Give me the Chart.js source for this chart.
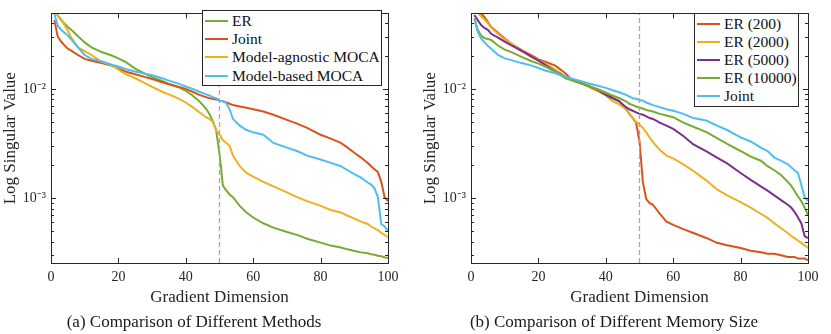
<!DOCTYPE html>
<html>
<head>
<meta charset="utf-8">
<script src="https://cdn.jsdelivr.net/npm/chart.js@4/dist/chart.umd.min.js"></script>
<style>
  body { margin: 0; background: #fff; }
  .panel { position: absolute; top: 0; height: 334px; }
  .legend {
    position: absolute; box-sizing: border-box; background: #fff;
    border: 1.4px solid #262626; padding-top: 0.5px;
    font: 15.5px "Liberation Serif", serif; color: #111;
  }
  .legend .row { display: flex; align-items: center; white-space: nowrap; }
  .legend .swatch { display: inline-block; height: 2px; margin-left: 2px; margin-right: 4px; }
</style>
</head>
<body>
<div class="panel" style="left:0;width:420px">
  <canvas id="chartA" width="420" height="334"></canvas>
  <div class="legend" id="legA" style="left:202px;top:10px;width:180px;height:76px"></div>
</div>
<div class="panel" style="left:420px;width:411px">
  <canvas id="chartB" width="411" height="334"></canvas>
  <div class="legend" id="legB" style="left:274px;top:13px;width:105px;height:94px"></div>
</div>
<script>
// gradient dimensions at which values were read
const dims = [1,2,3,4,5,6,8,10,12,15,18,20,22,25,28,30,33,35,38,40,42,44,46,47,48,49,50,51,52,53,54,56,58,60,63,66,70,73,76,80,83,86,88,90,92,94,95,96,97,98,99,100];

// (a) methods
const methodNames = ["ER", "Joint", "Model-agnostic MOCA", "Model-based MOCA"];
const erA = [0.051,0.047,0.0425,0.0396,0.0368,0.0347,0.0303,0.0266,0.024,0.0217,0.0202,0.019,0.0177,0.0153,0.0137,0.0128,0.0118,0.0111,0.0103,0.0096,0.0087,0.0077,0.0066,0.0059,0.0051,0.0042,0.00255,0.0013,0.00118,0.00108,0.00102,0.00085,0.00074,0.000665,0.000589,0.000537,0.00049,0.000461,0.000425,0.000392,0.000368,0.000354,0.00034,0.000329,0.000319,0.000313,0.000307,0.000303,0.000297,0.000294,0.000288,0.000283];
const jointA = [0.0425,0.03,0.0271,0.025,0.0233,0.0224,0.0204,0.0188,0.0181,0.0172,0.0163,0.0153,0.0144,0.0136,0.0128,0.0123,0.0115,0.011,0.0104,0.01,0.0094,0.0088,0.0084,0.0082,0.0081,0.008,0.0078,0.0077,0.0075,0.0073,0.0071,0.0069,0.0067,0.0065,0.0062,0.0058,0.0052,0.0048,0.0044,0.0038,0.0035,0.0032,0.0029,0.0026,0.00235,0.0021,0.00196,0.00184,0.00173,0.00141,0.00102,0.00094];
const agnosticA = [0.052,0.047,0.0434,0.0384,0.034,0.0294,0.024,0.0221,0.0204,0.0177,0.0165,0.015,0.0137,0.0125,0.0112,0.0104,0.0094,0.0089,0.0081,0.0075,0.0068,0.0061,0.0055,0.0053,0.005,0.0042,0.00384,0.0034,0.00319,0.00301,0.00245,0.00196,0.0017,0.00157,0.00141,0.00128,0.00113,0.00102,0.00094,0.00085,0.00078,0.00074,0.00069,0.00065,0.00061,0.00058,0.00055,0.00053,0.00051,0.00048,0.00046,0.00044];
const basedA = [0.049,0.0376,0.0347,0.0326,0.0307,0.0283,0.024,0.0204,0.0188,0.0179,0.0166,0.016,0.0152,0.0144,0.0137,0.0133,0.0125,0.0119,0.0111,0.0105,0.01,0.0094,0.0089,0.0087,0.0084,0.0082,0.0078,0.0077,0.0074,0.0065,0.0053,0.0046,0.0042,0.004,0.0038,0.0032,0.0029,0.0027,0.00245,0.00226,0.0021,0.00196,0.0018,0.00166,0.00154,0.00139,0.00133,0.00123,0.00102,0.00058,0.00055,0.0005];

// (b) memory sizes
const memoryNames = ["ER (200)", "ER (2000)", "ER (5000)", "ER (10000)", "Joint"];
const er200 = [0.057,0.053,0.049,0.0452,0.0408,0.0368,0.0326,0.0289,0.0258,0.0226,0.0202,0.0186,0.0177,0.0163,0.0139,0.012,0.0112,0.0106,0.0098,0.0092,0.0083,0.0077,0.0065,0.0059,0.0054,0.0049,0.0033,0.0014,0.00098,0.0009,0.00087,0.00072,0.00061,0.00057,0.00052,0.00048,0.00043,0.00039,0.00037,0.00035,0.00033,0.00032,0.00031,0.00031,0.0003,0.00029,0.00029,0.00029,0.00028,0.00028,0.00028,0.00027];
const er2000 = [0.054,0.05,0.0461,0.043,0.04,0.0361,0.0319,0.0283,0.0258,0.0221,0.0196,0.0182,0.017,0.015,0.013,0.012,0.0111,0.0104,0.0094,0.0087,0.0077,0.0072,0.0065,0.0059,0.0054,0.005,0.0047,0.0044,0.004,0.0036,0.00326,0.00277,0.00245,0.00231,0.00204,0.00177,0.00144,0.0012,0.00106,0.00092,0.00082,0.00072,0.00066,0.00059,0.00053,0.00048,0.00045,0.00043,0.00041,0.00039,0.00037,0.00035];
const er5000 = [0.0473,0.0425,0.0384,0.0361,0.0347,0.0319,0.0294,0.0271,0.025,0.0223,0.0196,0.0181,0.0166,0.0144,0.0128,0.012,0.0112,0.0106,0.0096,0.0088,0.0082,0.0077,0.0068,0.0065,0.0063,0.0061,0.0059,0.0058,0.0056,0.0054,0.0053,0.0049,0.0046,0.0043,0.0037,0.0031,0.00266,0.00235,0.00208,0.0017,0.00147,0.00128,0.00117,0.00106,0.00096,0.00087,0.00082,0.00075,0.00067,0.00059,0.00045,0.00043];
const er10000 = [0.0443,0.0347,0.0307,0.0291,0.0286,0.028,0.0249,0.0228,0.0217,0.0196,0.0179,0.017,0.016,0.0144,0.0125,0.012,0.0112,0.0106,0.0097,0.0092,0.0087,0.0082,0.0077,0.0073,0.0071,0.0069,0.0067,0.0066,0.0064,0.0063,0.0062,0.0059,0.0057,0.0055,0.0049,0.0045,0.004,0.00354,0.00313,0.0027,0.0024,0.0022,0.00196,0.0018,0.00163,0.00141,0.0013,0.00116,0.00104,0.00094,0.00082,0.0007];
const jointB = [0.0434,0.0333,0.0289,0.0266,0.0248,0.0233,0.0204,0.019,0.0183,0.0172,0.0163,0.0155,0.0147,0.0139,0.0129,0.0124,0.0117,0.0112,0.0106,0.0102,0.0097,0.0093,0.0088,0.0085,0.0082,0.0081,0.0079,0.0078,0.0075,0.0073,0.0071,0.0068,0.0065,0.0063,0.0059,0.0054,0.0051,0.0046,0.0042,0.0036,0.0033,0.0029,0.0027,0.00235,0.0022,0.00204,0.00192,0.0018,0.0017,0.00133,0.00102,0.00094];

const xTicks = [0, 20, 40, 60, 80, 100];
const yMin = 2.55e-4, yMax = 0.049;
const splitDim = 50;

const GREEN = "#77AC30", RED = "#D95319", YELLOW = "#EDB120", BLUE = "#4DBEEE", PURPLE = "#7E2F8E";
const AXIS = "#262626";
const FONT = "'Liberation Serif', serif";

const supMap = { "-": "\u207B", "0": "\u2070", "1": "\u00B9", "2": "\u00B2", "3": "\u00B3", "4": "\u2074", "5": "\u2075" };
function sup(n) { return String(n).split("").map(c => supMap[c] || c).join(""); }

// MATLAB style box with inward ticks on all four sides
const boxTicks = {
  id: "boxTicks",
  afterDatasetsDraw(chart) {
    const { ctx, chartArea: a, scales: { x, y } } = chart;
    ctx.save();
    ctx.strokeStyle = AXIS;
    ctx.lineWidth = 1;
    ctx.beginPath();
    x.ticks.forEach(t => {
      const px = Math.round(x.getPixelForValue(t.value)) + 0.5;
      ctx.moveTo(px, a.bottom); ctx.lineTo(px, a.bottom - 5);
      ctx.moveTo(px, a.top); ctx.lineTo(px, a.top + 5);
    });
    y.ticks.forEach(t => {
      const e = Math.floor(Math.log10(t.value) + 1e-9);
      const s = t.value / Math.pow(10, e);
      if (Math.abs(s - Math.round(s)) > 1e-6) return;
      const len = Math.round(s) === 1 ? 5 : 3;
      const py = Math.round(y.getPixelForValue(t.value)) + 0.5;
      ctx.moveTo(a.left, py); ctx.lineTo(a.left + len, py);
      ctx.moveTo(a.right, py); ctx.lineTo(a.right - len, py);
    });
    ctx.stroke();
    ctx.strokeRect(Math.round(a.left) + 0.5, Math.round(a.top) + 0.5, Math.round(a.width), Math.round(a.height));
    ctx.restore();
  }
};

function makeChart(id, names, colors, seriesList, caption, width) {
  const datasets = seriesList.map((vals, i) => ({
    label: names[i],
    data: dims.map((d, k) => ({ x: d, y: vals[k] })),
    borderColor: colors[i],
    backgroundColor: colors[i],
    borderWidth: 2,
    pointRadius: 0,
    order: seriesList.length - i
  }));
  datasets.push({
    label: "split",
    data: [{ x: splitDim, y: yMin }, { x: splitDim, y: yMax }],
    borderColor: "#a6a6a6",
    borderWidth: 1.3,
    borderDash: [5, 3],
    pointRadius: 0,
    order: 0
  });

  return new Chart(document.getElementById(id), {
    type: "line",
    data: { datasets },
    plugins: [boxTicks],
    options: {
      responsive: false,
      animation: false,
      layout: { padding: { left: 0, right: width - 388, top: 5, bottom: 0 } },
      plugins: {
        legend: { display: false },
        tooltip: { enabled: false },
        title: {
          display: true, position: "bottom", text: caption, color: "#1a1a1a",
          font: { family: FONT, size: 17, weight: "normal" },
          padding: { top: 4, bottom: 1.6 }
        }
      },
      scales: {
        x: {
          type: "linear", min: 0, max: 100,
          afterBuildTicks: s => { s.ticks = xTicks.map(v => ({ value: v })); },
          afterFit: s => { s.height = 45; },
          grid: { display: false, drawTicks: false },
          border: { display: false },
          ticks: { color: AXIS, padding: 6, maxRotation: 0, font: { family: FONT, size: 14 } },
          title: { display: true, text: "Gradient Dimension", color: AXIS, padding: 0, font: { family: FONT, size: 17 } }
        },
        y: {
          type: "logarithmic", min: yMin, max: yMax,
          afterFit: s => { s.width = 51; },
          grid: { display: false, drawTicks: false },
          border: { display: false },
          ticks: {
            color: AXIS, padding: 5, autoSkip: false, font: { family: FONT, size: 14 },
            callback: v => {
              const e = Math.log10(v);
              return Math.abs(e - Math.round(e)) < 1e-9 ? "10" + sup(Math.round(e)) : "";
            }
          },
          title: { display: true, text: "Log Singular Value", color: AXIS, padding: 0, font: { family: FONT, size: 17 } }
        }
      }
    }
  });
}

function makeLegend(id, names, colors, rowH) {
  const box = document.getElementById(id);
  names.forEach((n, i) => {
    const row = document.createElement("div");
    row.className = "row";
    row.style.height = rowH + "px";
    row.innerHTML = `<span class="swatch" style="width:23px;background:${colors[i]}"></span><span>${n}</span>`;
    box.appendChild(row);
  });
}

makeChart("chartA", methodNames, [GREEN, RED, YELLOW, BLUE], [erA, jointA, agnosticA, basedA],
  "(a) Comparison of Different Methods", 420);
makeChart("chartB", memoryNames, [RED, YELLOW, PURPLE, GREEN, BLUE], [er200, er2000, er5000, er10000, jointB],
  "(b) Comparison of Different Memory Size", 411);
makeLegend("legA", methodNames, [GREEN, RED, YELLOW, BLUE], 18.3);
makeLegend("legB", memoryNames, [RED, YELLOW, PURPLE, GREEN, BLUE], 18.1);
</script>
</body>
</html>
